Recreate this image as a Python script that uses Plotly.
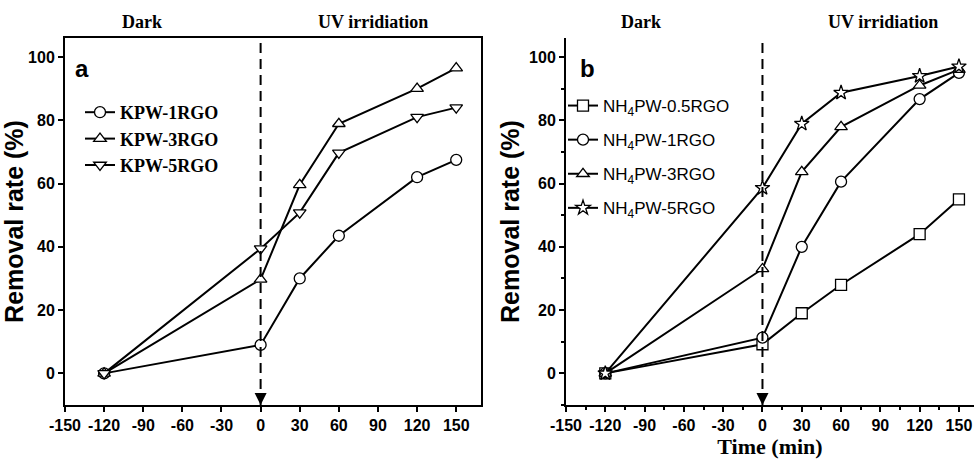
import plotly.graph_objects as go

# ---- data ----
time_min = [-120, 0, 30, 60, 120, 150]

# panel a
kpw_1rgo = [0, 9, 30, 43.5, 62, 67.5]
kpw_3rgo = [0, 29.7, 59.6, 78.9, 90, 96.5]
kpw_5rgo = [0, 39.4, 50.8, 69.7, 81, 84]

# panel b
nh4_05rgo = [0, 9.2, 19, 28, 44, 55]
nh4_1rgo = [0, 11.3, 40, 60.6, 86.7, 95]
nh4_3rgo = [0, 33, 63.7, 77.9, 91, 96]
nh4_5rgo = [0, 58.6, 78.9, 88.7, 94, 97]

names_a = ["KPW-1RGO", "KPW-3RGO", "KPW-5RGO"]
names_b = ["NH<sub>4</sub>PW-0.5RGO", "NH<sub>4</sub>PW-1RGO",
           "NH<sub>4</sub>PW-3RGO", "NH<sub>4</sub>PW-5RGO"]
x_ticks = [-150, -120, -90, -60, -30, 0, 30, 60, 90, 120, 150]
x_ticktext = ["-150", "-120", "-90", "-60", "-30", "0", "30", "60", "90", "120", "150"]
y_ticks = [0, 20, 40, 60, 80, 100]
y_ticktext = ["0", "20", "40", "60", "80", "100"]

SANS = "Liberation Sans, Arial, sans-serif"
SERIF = "Liberation Serif, Times New Roman, serif"

fig = go.Figure()

def add(x, y, name, symbol, xa, ya, legend, group):
    fig.add_trace(go.Scatter(
        x=x, y=y, name=name, mode="lines+markers",
        line=dict(color="black", width=2),
        marker=dict(symbol=symbol, size=11, color="white",
                    line=dict(color="black", width=1.3)),
        xaxis=xa, yaxis=ya, legend=legend, legendgroup=group,
    ))

add(time_min, kpw_1rgo, names_a[0], "circle", "x", "y", "legend", "a1")
add(time_min, kpw_3rgo, names_a[1], "triangle-up", "x", "y", "legend", "a2")
add(time_min, kpw_5rgo, names_a[2], "triangle-down", "x", "y", "legend", "a3")

add(time_min, nh4_05rgo, names_b[0], "square", "x2", "y2", "legend2", "b1")
add(time_min, nh4_1rgo, names_b[1], "circle", "x2", "y2", "legend2", "b2")
add(time_min, nh4_3rgo, names_b[2], "triangle-up", "x2", "y2", "legend2", "b3")
add(time_min, nh4_5rgo, names_b[3], "star", "x2", "y2", "legend2", "b4")

ydom = [1 - 405 / 461, 1 - 38 / 461]
tickfont = dict(family=SANS, size=16, color="black", weight="bold")

xcommon = dict(tickmode="array", tickvals=x_ticks,
               ticktext=["<b>%s</b>" % t for t in x_ticktext],
               ticks="outside", ticklen=5,
               tickwidth=2, tickcolor="black", showline=True, linecolor="black",
               linewidth=2, showgrid=False, zeroline=False, tickfont=tickfont)
ycommon = dict(tickmode="array", tickvals=y_ticks,
               ticktext=["<b>%s</b>" % t for t in y_ticktext],
               ticks="outside", ticklen=5,
               tickwidth=2, tickcolor="black", showline=True, linecolor="black",
               linewidth=2, showgrid=False, zeroline=False, tickfont=tickfont,
               range=[-10, 106],
               title=dict(text="Removal rate (%)",
                          font=dict(family=SANS, size=25, color="black", weight="bold"),
                          standoff=2))

fig.update_layout(
    width=974, height=461,
    margin=dict(l=0, r=0, t=0, b=0, autoexpand=False),
    plot_bgcolor="white", paper_bgcolor="white",
    xaxis=dict(domain=[65 / 974, 481 / 974], range=[-150, 169], mirror=True,
               anchor="y", **xcommon),
    yaxis=dict(domain=ydom, anchor="x", mirror=True, **ycommon),
    xaxis2=dict(domain=[566 / 974, 1.0], range=[-150, 161.5], anchor="y2",
                minor=dict(tickvals=[-135, -105, -75, -45, -15, 15, 45, 75, 105, 135],
                           ticks="outside", ticklen=3, tickwidth=2, tickcolor="black"),
                title=dict(text="Time (min)",
                           font=dict(family=SERIF, size=22, color="black", weight="bold"),
                           standoff=2),
                **xcommon),
    yaxis2=dict(domain=ydom, anchor="x2",
                minor=dict(tickvals=[-10, 10, 30, 50, 70, 90],
                           ticks="outside", ticklen=3, tickwidth=2, tickcolor="black"),
                **ycommon),
    legend=dict(x=80 / 974, y=1 - 94 / 461, xanchor="left", yanchor="top",
                bgcolor="rgba(0,0,0,0)", borderwidth=0,
                font=dict(family=SERIF, size=18, color="black", weight="bold"),
                tracegroupgap=0, itemwidth=30),
    legend2=dict(x=563 / 974, y=1 - 88 / 461, xanchor="left", yanchor="top",
                 bgcolor="rgba(0,0,0,0)", borderwidth=0,
                 font=dict(family=SANS, size=17, color="black"),
                 tracegroupgap=9, itemwidth=30),
    showlegend=True,
)

shapes = []
annotations = []
for xa, ya, lab, dark_x, uv_x in [("x", "y", "a", -91, 86), ("x2", "y2", "b", -92.5, 92)]:
    shapes.append(dict(type="line", xref=xa, yref=ya + " domain", x0=0, x1=0,
                       y0=0, y1=1, line=dict(color="black", width=2, dash="10px,6px")))
    annotations.append(dict(x=0, y=-10, xref=xa, yref=ya, ax=0, ay=-13,
                            showarrow=True, arrowhead=2, arrowsize=1.2,
                            arrowwidth=2, arrowcolor="black", text=""))
    annotations.append(dict(x=dark_x, y=1 - 10 / 461, xref=xa, yref="paper",
                            yanchor="top", text="Dark", showarrow=False,
                            font=dict(family=SERIF, size=18, color="black", weight="bold")))
    annotations.append(dict(x=uv_x, y=1 - 10 / 461, xref=xa, yref="paper",
                            yanchor="top", text="UV irridiation", showarrow=False,
                            font=dict(family=SERIF, size=18, color="black", weight="bold")))
    annotations.append(dict(x=0.02 if lab == "a" else 0.03, y=0.96,
                            xref=xa + " domain", yref=ya + " domain",
                            xanchor="left", yanchor="top",
                            text=lab, showarrow=False,
                            font=dict(family=SANS, size=24, color="black", weight="bold")))

fig.update_layout(shapes=shapes, annotations=annotations)
fig.write_html("out.html")
